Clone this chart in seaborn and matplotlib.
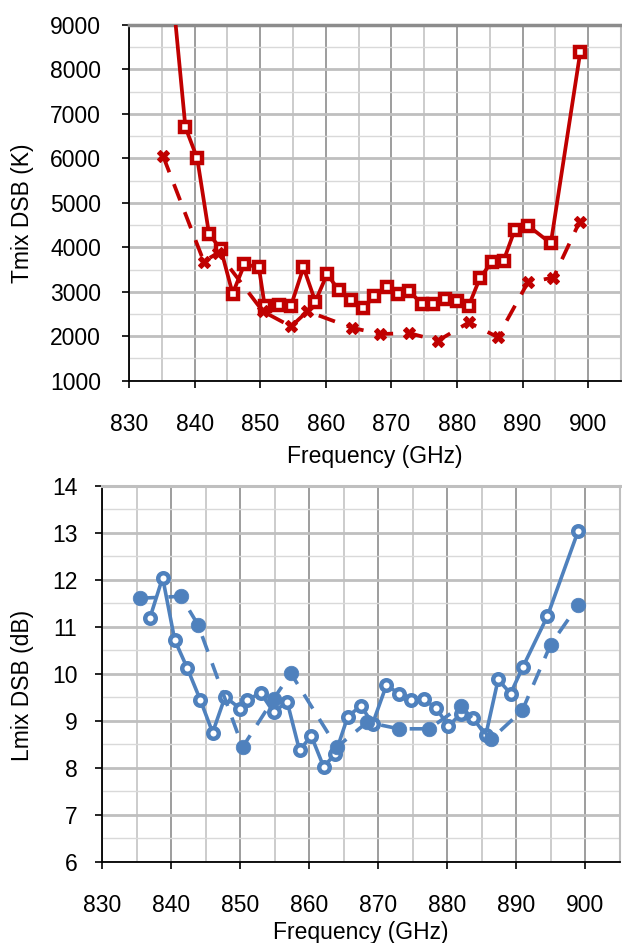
import matplotlib
matplotlib.use("Agg")
import matplotlib.pyplot as plt
import seaborn as sns
import numpy as np
from matplotlib.ticker import MultipleLocator

# ---- data ----
f_tmix_solid = [836.6, 838.6, 840.4, 842.2, 844.0, 845.8, 847.6, 849.8, 850.7, 852.8, 854.7,
                856.6, 858.4, 860.2, 862.0, 863.8, 865.7, 867.4, 869.3, 871.0, 872.7, 874.6,
                876.4, 878.2, 880.0, 881.8, 883.5, 885.3, 887.1, 888.8, 890.8, 894.3, 898.8]
tmix_solid = [9800, 6700, 6000, 4300, 3960, 2960, 3620, 3550, 2670, 2710, 2690,
              3550, 2780, 3400, 3030, 2820, 2630, 2900, 3110, 2950, 3020, 2730,
              2730, 2840, 2800, 2690, 3310, 3670, 3700, 4390, 4490, 4090, 8400]

f_tmix_dash = [835.2, 841.4, 843.6, 850.4, 854.7, 857.2, 864.0, 868.3, 872.7, 877.1,
               881.8, 886.2, 890.8, 894.7, 898.7]
tmix_dash = [6050, 3680, 3880, 2560, 2220, 2560, 2190, 2050, 2070, 1900,
             2310, 1980, 3210, 3320, 4580]

f_lmix_solid = [836.9, 838.75, 840.5, 842.3, 844.2, 846.0, 847.8, 850.0, 851.0, 853.0, 854.85,
                856.8, 858.6, 860.3, 862.1, 863.8, 865.6, 867.5, 869.2, 871.2, 873.0, 874.8,
                876.6, 878.4, 880.2, 882.0, 883.8, 885.6, 887.4, 889.2, 891.0, 894.55, 899.0]
lmix_solid = [11.19, 12.05, 10.72, 10.13, 9.45, 8.75, 9.51, 9.26, 9.45, 9.59, 9.18,
              9.41, 8.37, 8.68, 8.02, 8.30, 9.09, 9.32, 8.94, 9.76, 9.58, 9.44,
              9.46, 9.27, 8.89, 9.15, 9.05, 8.69, 9.88, 9.58, 10.15, 11.23, 13.04]

f_lmix_dash = [835.4, 841.4, 843.9, 850.35, 854.85, 857.35, 864.0, 868.4, 873.0, 877.4,
               882.0, 886.4, 890.9, 895.0, 899.0]
lmix_dash = [11.61, 11.65, 11.04, 8.44, 9.47, 10.01, 8.44, 8.97, 8.83, 8.83,
             9.31, 8.61, 9.22, 10.62, 11.46]

x_ticks = [830, 840, 850, 860, 870, 880, 890, 900]
t_ticks = [1000, 2000, 3000, 4000, 5000, 6000, 7000, 8000, 9000]
l_ticks = [6, 7, 8, 9, 10, 11, 12, 13, 14]

RED = "#C00000"
BLUE = "#4F81BD"

sns.set_style("white")
plt.rcParams["font.family"] = ["Liberation Sans", "DejaVu Sans"]
plt.rcParams["text.color"] = "black"
plt.rcParams["axes.labelcolor"] = "black"
plt.rcParams["xtick.color"] = "black"
plt.rcParams["ytick.color"] = "black"
FS = 16.5

fig = plt.figure(figsize=(6.22, 9.43), dpi=100)
ax1 = fig.add_axes([129 / 622, 1 - 380.7 / 943, (621 - 129) / 622, (380.7 - 25) / 943])
ax2 = fig.add_axes([102.3 / 622, 1 - 861.7 / 943, (619.5 - 102.3) / 622, (861.7 - 486) / 943])

dash = (0, (4.6, 3.4))

# top chart
sns.lineplot(x=f_tmix_solid, y=tmix_solid, ax=ax1, sort=False, estimator=None,
             color=RED, linewidth=2.7, marker="s", markersize=7.3,
             markerfacecolor="white", markeredgecolor=RED, markeredgewidth=3.2, zorder=3)
sns.lineplot(x=f_tmix_dash, y=tmix_dash, ax=ax1, sort=False, estimator=None,
             color=RED, linewidth=2.7, linestyle=dash, marker="X", markersize=9,
             markerfacecolor=RED, markeredgecolor=RED, markeredgewidth=0.8, zorder=4)

# bottom chart
sns.lineplot(x=f_lmix_solid, y=lmix_solid, ax=ax2, sort=False, estimator=None,
             color=BLUE, linewidth=2.6, marker="o", markersize=7.6,
             markerfacecolor="white", markeredgecolor=BLUE, markeredgewidth=3.2, zorder=3)
sns.lineplot(x=f_lmix_dash, y=lmix_dash, ax=ax2, sort=False, estimator=None,
             color=BLUE, linewidth=2.6, linestyle=dash, marker="o", markersize=10.5,
             markerfacecolor=BLUE, markeredgecolor=BLUE, markeredgewidth=0.5, zorder=4)


def style(ax, yticks, ymin, ylabel, ytickpad, top_color, top_lw):
    ax.set_xlim(830, 905)
    ax.set_ylim(yticks[0], yticks[-1])
    ax.set_xticks(x_ticks)
    ax.set_yticks(yticks)
    ax.xaxis.set_minor_locator(MultipleLocator(5))
    ax.yaxis.set_minor_locator(MultipleLocator(ymin))
    ax.set_axisbelow(True)
    ax.grid(True, which="major", axis="y", color="#BFBFBF", linewidth=2.0)
    ax.grid(True, which="minor", axis="y", color="#D9D9D9", linewidth=1.0)
    ax.grid(True, which="major", axis="x", color="#8C8C8C", linewidth=1.2)
    ax.grid(True, which="minor", axis="x", color="#C8C8C8", linewidth=1.3)
    ax.tick_params(axis="x", which="major", direction="out", length=5, width=1.2,
                   color="black", labelcolor="black", pad=18, labelsize=FS, bottom=True)
    ax.tick_params(axis="y", which="major", direction="out", length=5, width=1.2,
                   color="black", labelcolor="black", pad=ytickpad, labelsize=FS, left=True)
    ax.tick_params(which="minor", length=0)
    for s in ["left", "bottom"]:
        ax.spines[s].set_color("black")
        ax.spines[s].set_linewidth(1.3)
    ax.spines["right"].set_color("#BFBFBF")
    ax.spines["right"].set_linewidth(1.5)
    ax.spines["top"].set_color(top_color)
    ax.spines["top"].set_linewidth(top_lw)
    ax.set_xlabel("Frequency (GHz)", fontsize=FS, color="black")
    ax.set_ylabel(ylabel, fontsize=FS, color="black")
    ax.yaxis.label.set_va("center")


style(ax1, t_ticks, 500, "Tmix DSB (K)", 15, "#8C8C8C", 2.5)
style(ax2, l_ticks, 0.5, "Lmix DSB (dB)", 13, "#BFBFBF", 2.2)

h1 = 380.7 - 25
h2 = 861.7 - 486
ax1.yaxis.set_label_coords((22.5 - 129) / 492, 0.47)
ax2.yaxis.set_label_coords((22.5 - 102.3) / 517.2, 0.47)
ax1.xaxis.label.set_va("center")
ax2.xaxis.label.set_va("center")
ax1.xaxis.set_label_coords(0.5, -(456 - 380.7) / h1)
ax2.xaxis.set_label_coords(0.5, -(932 - 861.7) / h2)

fig.savefig("out.png", dpi=100)
